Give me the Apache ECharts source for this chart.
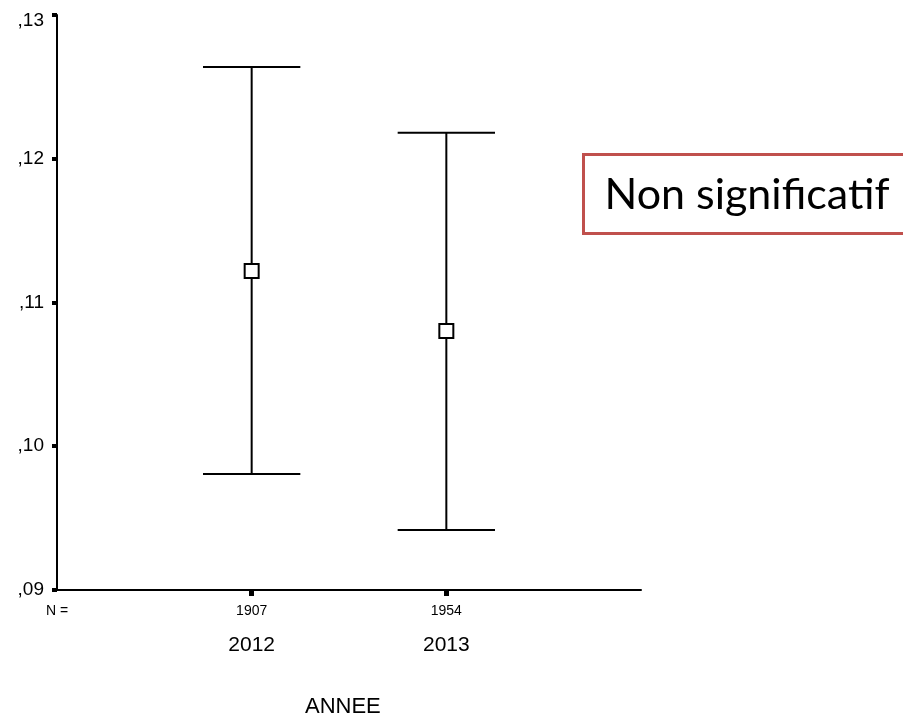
<!DOCTYPE html>
<html>
<head>
<meta charset="utf-8">
<script src="https://cdn.jsdelivr.net/npm/echarts@6/dist/echarts.min.js"></script>
<style>html,body{margin:0;padding:0;background:#fff;}#c{width:903px;height:721px;}</style>
</head>
<body>
<div id="c"></div>
<script>
// Data
var categories = ['', '2012', '2013', ''];
var nValues = ['N =', '1907', '1954', ''];
var means = [0.11219, 0.10802];
var lows = [0.09807, 0.09417];
var highs = [0.12638, 0.12181];
var yTickLabels = [',09', ',10', ',11', ',12', ',13'];
var xTitle = 'ANNEE';
var note = 'Non significatif';

var seriesData = means.map(function (m, i) { return [i + 1, lows[i], highs[i], m]; });

var chart = echarts.init(document.getElementById('c'));
chart.setOption({
  animation: false,
  backgroundColor: '#fff',
  grid: { left: 57, right: 262, top: 15, bottom: 131, containLabel: false },
  xAxis: {
    type: 'category',
    data: categories,
    boundaryGap: false,
    axisLine: { lineStyle: { color: '#000', width: 2 } },
    axisTick: {
      show: true, length: 6, alignWithLabel: true,
      interval: function (i) { return i === 1 || i === 2; },
      lineStyle: { color: '#000', width: 5 }
    },
    axisLabel: {
      interval: 0,
      margin: 11,
      formatter: function (v, i) {
        return '{n|' + nValues[i] + '}\n{y|' + (v || ' ') + '}';
      },
      rich: {
        n: { fontFamily: 'Liberation Sans', fontSize: 14, color: '#000', lineHeight: 20 },
        y: { fontFamily: 'Liberation Sans', fontSize: 21, color: '#000', lineHeight: 48 }
      }
    },
    splitLine: { show: false }
  },
  yAxis: {
    type: 'value',
    min: 0.09, max: 0.13, interval: 0.01,
    axisLine: { show: true, lineStyle: { color: '#000', width: 2 } },
    axisTick: { show: true, length: 5, lineStyle: { color: '#000', width: 4 } },
    axisLabel: {
      margin: 13,
      fontFamily: 'Liberation Sans', fontSize: 19, color: '#000',
      formatter: function (v, i) {
        return i === yTickLabels.length - 1 ? '{t|' + yTickLabels[i] + '}' : yTickLabels[i];
      },
      rich: {
        t: { fontFamily: 'Liberation Sans', fontSize: 19, color: '#000', padding: [12, 0, 0, 0] }
      }
    },
    splitLine: { show: false }
  },
  series: [{
    type: 'custom',
    data: seriesData,
    encode: { x: 0, y: [1, 2, 3] },
    renderItem: function (params, api) {
      var x = api.value(0);
      var pLow = api.coord([x, api.value(1)]);
      var pHigh = api.coord([x, api.value(2)]);
      var pMean = api.coord([x, api.value(3)]);
      var half = api.size([1, 0])[0] * 0.25;
      var ls = { stroke: '#000', lineWidth: 2 };
      return {
        type: 'group',
        children: [
          { type: 'line', shape: { x1: pLow[0], y1: pLow[1], x2: pHigh[0], y2: pHigh[1] }, style: ls },
          { type: 'line', shape: { x1: pHigh[0] - half, y1: pHigh[1], x2: pHigh[0] + half, y2: pHigh[1] }, style: ls },
          { type: 'line', shape: { x1: pLow[0] - half, y1: pLow[1], x2: pLow[0] + half, y2: pLow[1] }, style: ls },
          { type: 'rect', shape: { x: pMean[0] - 7, y: pMean[1] - 7, width: 14, height: 14 }, style: { fill: '#fff', stroke: '#000', lineWidth: 2 } }
        ]
      };
    }
  }],
  graphic: [
    {
      type: 'text', left: 305, top: 696,
      style: { text: xTitle, fontFamily: 'Liberation Sans', fontSize: 22, fill: '#000' }
    },
    {
      type: 'group', left: 582, top: 153,
      children: [
        { type: 'rect', shape: { x: 0, y: 0, width: 340, height: 79 }, style: { fill: '#fff', stroke: '#C0504D', lineWidth: 3 } },
        { type: 'text', x: 21, y: 41, style: { text: note, fontFamily: 'Lato', fontSize: 43, fill: '#000', verticalAlign: 'middle' } }
      ]
    }
  ]
});
</script>
</body>
</html>
